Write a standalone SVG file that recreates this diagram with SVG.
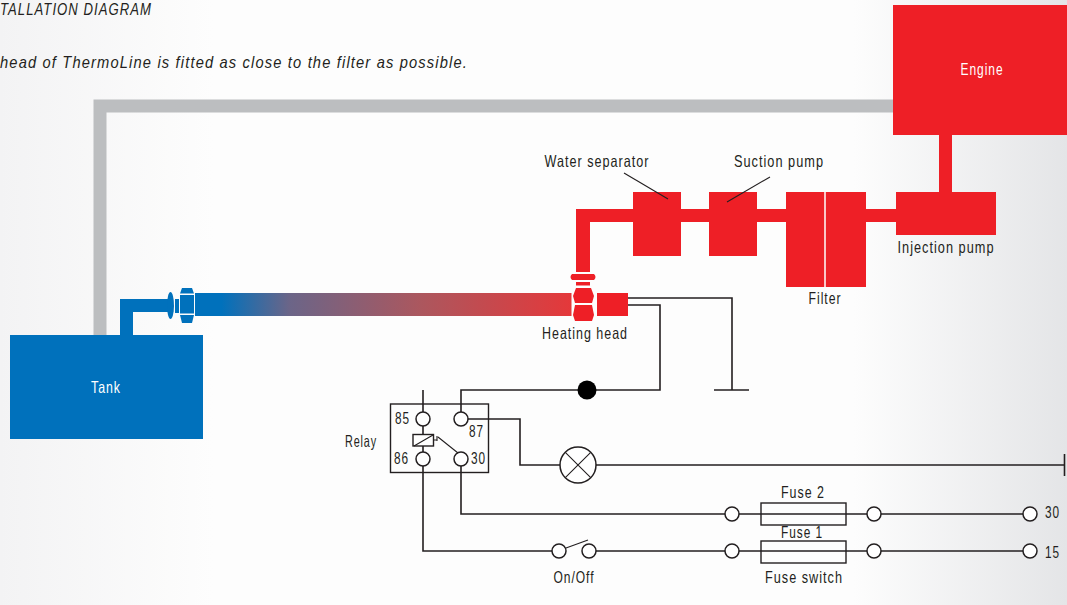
<svg xmlns="http://www.w3.org/2000/svg" width="1067" height="605" viewBox="0 0 1067 605">
<style>
text{font-family:"Liberation Sans",Arial,sans-serif;font-size:16.500px;letter-spacing:1.300px;fill:#231f20}
.i{font-style:italic}
.w{fill:#fff}
.l{fill:none;stroke:#231f20;stroke-width:1.600}
.t{fill:none;stroke:#231f20;stroke-width:1.100}
.c{fill:#fff;stroke:#231f20;stroke-width:1.500}
.r{fill:#ee1f26}
.b{fill:#0071bc}
</style>
<defs>
<linearGradient id="bg" x1="0" y1="0" x2="1" y2="0"><stop offset="0" stop-color="#f3f3f4"/><stop offset=".2" stop-color="#fdfdfd"/><stop offset=".8" stop-color="#fdfdfd"/><stop offset="1" stop-color="#e4e5e7"/></linearGradient>
<linearGradient id="heat" gradientUnits="userSpaceOnUse" x1="195" y1="0" x2="572" y2="0"><stop offset="0" stop-color="#0071bc"/><stop offset=".07" stop-color="#0071bc"/><stop offset=".25" stop-color="#6b6588"/><stop offset=".6" stop-color="#ac575e"/><stop offset="1" stop-color="#e5383a"/></linearGradient>
</defs>
<rect width="1067" height="605" fill="url(#bg)"/>
<g id="return-line"><path d="M100 335V106H900" fill="none" stroke="#bcbec0" stroke-width="13"/></g>
<g id="title"><text class="i" x="0" y="15" textLength="152" lengthAdjust="spacingAndGlyphs">TALLATION DIAGRAM</text>
<text class="i" x="0" y="68" textLength="468" lengthAdjust="spacingAndGlyphs">head of ThermoLine is fitted as close to the filter as possible.</text></g>
<g id="connectors">
<path class="l" d="M628 298H732V390M714 390H749M628 305H660V390H461V412"/>
<path class="l" d="M423 390V412M423 426V452M423 466V551H552M468 419H520V465H560M596 465H1064M1064.500 454V476M461 466V514H725M596 551H725M739 514H867M881 514H1023M739 551H867M881 551H1023"/>
</g>
<g id="pipework">
<path class="r" d="M576 209H896V222H590V272H576Z"/>
<path class="r" d="M939 130H952V195H939Z"/>
<path class="b" d="M120 299H168V312H133V336H120Z"/>
</g>
<g id="tank"><rect class="b" x="10" y="335" width="193" height="104"/><text class="w" x="106" y="393" text-anchor="middle" textLength="30" lengthAdjust="spacingAndGlyphs">Tank</text></g>
<g id="engine"><rect class="r" x="893" y="5" width="178" height="130"/><text class="w" x="982" y="75" text-anchor="middle" textLength="43" lengthAdjust="spacingAndGlyphs">Engine</text></g>
<g id="water-separator"><rect class="r" x="633" y="192" width="48" height="64"/><text x="597" y="167" text-anchor="middle" textLength="105" lengthAdjust="spacingAndGlyphs">Water separator</text><path class="t" d="M624 173L668 199"/></g>
<g id="suction-pump"><rect class="r" x="709" y="192" width="48" height="64"/><text x="779" y="167" text-anchor="middle" textLength="90" lengthAdjust="spacingAndGlyphs">Suction pump</text><path class="t" d="M770 177L727 202"/></g>
<g id="filter"><rect class="r" x="786" y="192" width="80" height="95"/><path stroke="#fff" stroke-width="1.500" d="M825 192V287"/><text x="825" y="304" text-anchor="middle" textLength="33" lengthAdjust="spacingAndGlyphs">Filter</text></g>
<g id="injection-pump"><rect class="r" x="896" y="192" width="100" height="43"/><text x="946" y="253" text-anchor="middle" textLength="97" lengthAdjust="spacingAndGlyphs">Injection pump</text></g>
<g id="thermoline"><rect x="195" y="293" width="376.500" height="23" fill="url(#heat)"/></g>
<g id="coupling">
<ellipse class="b" cx="170.500" cy="305.500" rx="3.500" ry="13.500"/>
<rect class="b" x="175" y="299" width="4" height="14"/>
<path class="b" d="M182 288H192L194 293.500H180Z"/>
<rect class="b" x="180" y="295" width="14" height="18.500"/>
<path class="b" d="M180 315H194L192 323H182Z"/>
</g>
<g id="heating-head">
<path class="r" d="M572 274H594Q597 277 594 280H572Q569 277 572 274Z"/>
<rect class="r" x="576" y="282" width="14" height="3.500"/>
<path class="r" d="M576 288H591L594 296 592 303H575L573 296Z"/>
<path class="r" d="M575 305H592L594 315 592 321H575L573 315Z"/>
<rect class="r" x="597" y="293" width="31" height="23"/>
<text x="585" y="339" text-anchor="middle" textLength="86" lengthAdjust="spacingAndGlyphs">Heating head</text>
</g>
<g id="ground-junction"><circle cx="587" cy="390" r="9.500" fill="#000"/></g>
<g id="relay">
<rect x="390.500" y="404" width="98" height="68.500" fill="none" stroke="#231f20" stroke-width="1.400"/>
<circle class="c" cx="423" cy="419" r="7"/><circle class="c" cx="461" cy="419" r="7"/><circle class="c" cx="423" cy="459" r="7"/><circle class="c" cx="461" cy="459" r="7"/>
<rect x="413" y="434.500" width="20.500" height="11.500" fill="#fff" stroke="#231f20" stroke-width="1.400"/>
<path class="t" d="M414 446L433 435M434 440H437M437 436V441M438 437L458 453"/>
<text x="395" y="424" textLength="15" lengthAdjust="spacingAndGlyphs">85</text>
<text x="469" y="437" textLength="15" lengthAdjust="spacingAndGlyphs">87</text>
<text x="394" y="464" textLength="15" lengthAdjust="spacingAndGlyphs">86</text>
<text x="471" y="464" textLength="15" lengthAdjust="spacingAndGlyphs">30</text>
<text x="345" y="447" textLength="32" lengthAdjust="spacingAndGlyphs">Relay</text>
</g>
<g id="lamp"><circle class="c" cx="578" cy="465" r="18"/><path class="t" d="M565.300 452.300L590.700 477.700M590.700 452.300L565.300 477.700"/></g>
<g id="fuse-2"><rect x="761" y="503" width="85" height="22" fill="none" stroke="#231f20" stroke-width="1.400"/><text x="803" y="498" text-anchor="middle" textLength="44" lengthAdjust="spacingAndGlyphs">Fuse 2</text></g>
<g id="fuse-1"><rect x="761" y="541" width="85" height="22" fill="none" stroke="#231f20" stroke-width="1.400"/><text x="802" y="538" text-anchor="middle" textLength="42" lengthAdjust="spacingAndGlyphs">Fuse 1</text><text x="804" y="583" text-anchor="middle" textLength="78" lengthAdjust="spacingAndGlyphs">Fuse switch</text></g>
<g id="terminals">
<circle class="c" cx="732" cy="514" r="7"/><circle class="c" cx="874" cy="514" r="7"/><circle class="c" cx="1030" cy="514" r="7"/>
<circle class="c" cx="732" cy="551" r="7"/><circle class="c" cx="874" cy="551" r="7"/><circle class="c" cx="1030" cy="551" r="7"/>
<text x="1045" y="518" textLength="15" lengthAdjust="spacingAndGlyphs">30</text><text x="1045" y="558" textLength="15" lengthAdjust="spacingAndGlyphs">15</text>
</g>
<g id="switch"><circle class="c" cx="559" cy="551" r="7"/><circle class="c" cx="589" cy="551" r="7"/><path class="t" d="M566 548L588 540"/><text x="574" y="583" text-anchor="middle" textLength="41" lengthAdjust="spacingAndGlyphs">On/Off</text></g>
</svg>
